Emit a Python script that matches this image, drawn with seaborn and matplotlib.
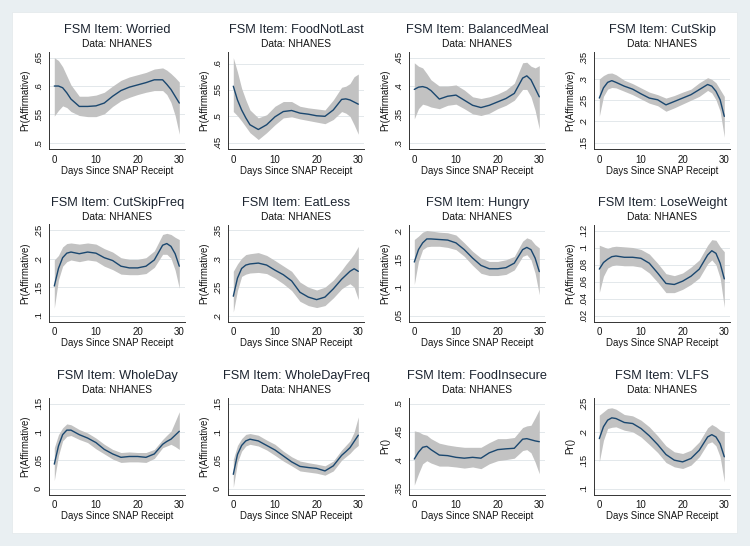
import numpy as np
import pandas as pd
import matplotlib
matplotlib.use('Agg')
import matplotlib.pyplot as plt
import matplotlib.patches as mpatches
import seaborn as sns

sns.set_theme(style='white')
plt.rcParams['font.family'] = ['Liberation Sans', 'DejaVu Sans']

# days since SNAP receipt (common grid)
days = [0, 1, 2, 3, 4, 6, 8, 10, 12, 14, 16, 18, 20, 22, 24, 26, 27, 28, 29, 30]

items = ['Worried', 'FoodNotLast', 'BalancedMeal', 'CutSkip',
         'CutSkipFreq', 'EatLess', 'Hungry', 'LoseWeight',
         'WholeDay', 'WholeDayFreq', 'FoodInsecure', 'VLFS']

ylabels = ['Pr(Affirmative)'] * 10 + ['Pr()'] * 2

yticks = [
    [.5, .55, .6, .65],
    [.45, .5, .55, .6],
    [.3, .35, .4, .45],
    [.15, .2, .25, .3, .35],
    [.1, .15, .2, .25],
    [.2, .25, .3, .35],
    [.05, .1, .15, .2],
    [.02, .04, .06, .08, .1, .12],
    [0, .05, .1, .15],
    [0, .05, .1, .15],
    [.35, .4, .45, .5],
    [.1, .15, .2, .25],
]

worried_mean = [.600, .600, .597, .588, .577, .564, .564, .565, .570, .582, .592, .598, .602, .606, .611, .611, .603, .594, .582, .570]
worried_lo = [.547, .557, .565, .562, .555, .548, .546, .546, .551, .564, .574, .580, .585, .589, .592, .592, .585, .571, .548, .515]
worried_hi = [.650, .645, .634, .618, .602, .582, .582, .584, .589, .600, .610, .616, .620, .624, .630, .632, .628, .622, .615, .607]

foodnotlast_mean = [.557, .531, .512, .497, .484, .475, .484, .499, .509, .511, .506, .504, .501, .500, .512, .532, .533, .531, .527, .523]
foodnotlast_lo = [.509, .501, .491, .480, .469, .456, .469, .484, .497, .499, .495, .492, .489, .486, .494, .509, .506, .500, .484, .466]
foodnotlast_hi = [.611, .584, .553, .531, .512, .497, .503, .519, .528, .528, .519, .516, .514, .512, .531, .555, .557, .562, .575, .580]

balanced_mean = [.394, .398, .399, .397, .392, .377, .382, .384, .375, .366, .362, .366, .372, .378, .387, .414, .418, .411, .396, .381]
balanced_lo = [.342, .360, .368, .366, .363, .360, .366, .368, .360, .351, .348, .352, .360, .366, .375, .394, .394, .381, .357, .324]
balanced_hi = [.441, .435, .432, .422, .411, .400, .400, .402, .393, .381, .378, .381, .386, .393, .405, .441, .442, .435, .432, .436]

cutskip_mean = [.255, .279, .292, .296, .292, .283, .276, .265, .255, .251, .239, .247, .255, .263, .275, .287, .283, .271, .251, .212]
cutskip_lo = [.212, .259, .276, .280, .279, .271, .263, .253, .243, .237, .224, .232, .241, .250, .259, .273, .267, .251, .224, .163]
cutskip_hi = [.300, .308, .313, .314, .310, .297, .289, .279, .269, .263, .255, .261, .269, .276, .291, .303, .299, .291, .275, .259]

cutskipfreq_mean = [.152, .183, .202, .210, .212, .209, .212, .210, .202, .197, .187, .184, .184, .187, .198, .224, .227, .222, .209, .187]
cutskipfreq_lo = [.113, .163, .187, .195, .198, .195, .198, .196, .187, .181, .173, .172, .172, .174, .185, .208, .208, .201, .180, .148]
cutskipfreq_hi = [.198, .206, .221, .227, .228, .226, .228, .226, .218, .212, .202, .199, .199, .202, .214, .243, .245, .243, .238, .234]

eatless_mean = [.234, .266, .283, .289, .291, .2925, .289, .280, .272, .261, .241, .2325, .228, .2325, .247, .264, .271, .278, .2825, .278]
eatless_lo = [.206, .244, .269, .273, .275, .276, .274, .266, .256, .244, .225, .2175, .214, .2175, .231, .247, .252, .256, .250, .228]
eatless_hi = [.278, .291, .301, .3075, .309, .311, .306, .297, .2875, .278, .259, .250, .245, .250, .2625, .280, .290, .299, .309, .322]

hungry_mean = [.145, .167, .179, .186, .186, .185, .184, .179, .167, .152, .139, .133, .133, .135, .143, .167, .171, .167, .152, .128]
hungry_lo = [.105, .146, .167, .172, .173, .173, .171, .167, .155, .139, .125, .121, .121, .123, .131, .155, .158, .149, .125, .087]
hungry_hi = [.185, .191, .198, .201, .200, .198, .197, .193, .179, .164, .152, .146, .146, .149, .155, .182, .188, .185, .176, .170]

loseweight_mean = [.0746, .0823, .0862, .0892, .090, .0885, .0885, .0873, .0815, .070, .0577, .0565, .0604, .0662, .0746, .0912, .0962, .0931, .0815, .0631]
loseweight_lo = [.0469, .0662, .0758, .0785, .0796, .0785, .0785, .0769, .070, .0592, .0469, .0469, .0508, .0565, .0642, .0808, .0854, .0796, .0642, .0296]
loseweight_hi = [.1027, .1008, .0988, .1008, .1015, .1008, .100, .0977, .0923, .0815, .0692, .0669, .070, .0769, .0854, .1027, .1092, .1085, .1008, .095]

wholeday_mean = [.043, .075, .095, .103, .103, .095, .089, .081, .069, .061, .055, .0565, .0565, .055, .061, .078, .083, .087, .094, .101]
wholeday_lo = [.014, .058, .084, .092, .0935, .0865, .081, .070, .061, .052, .046, .047, .047, .046, .053, .072, .075, .078, .074, .069]
wholeday_hi = [.072, .095, .107, .114, .1125, .104, .098, .089, .078, .069, .0635, .0645, .0635, .0635, .069, .0865, .094, .101, .118, .1355]

wholedayfreq_mean = [.025, .060, .076, .084, .087, .084, .076, .068, .0575, .047, .039, .037, .0355, .031, .040, .0585, .065, .072, .083, .094]
wholedayfreq_lo = [.002, .046, .066, .075, .078, .075, .068, .0585, .0485, .040, .031, .029, .027, .0235, .031, .050, .056, .062, .070, .076]
wholedayfreq_hi = [.0515, .076, .088, .0955, .097, .094, .0855, .078, .066, .056, .0485, .0455, .043, .040, .0485, .068, .076, .084, .0995, .1265]

foodinsecure_mean = [.402, .414, .4227, .4244, .4186, .409, .408, .405, .4035, .405, .4035, .413, .4186, .420, .421, .437, .438, .436, .434, .4326]
foodinsecure_lo = [.356, .376, .3936, .399, .395, .3895, .3895, .388, .386, .388, .385, .3936, .399, .401, .4035, .417, .4186, .413, .3965, .376]
foodinsecure_hi = [.4517, .450, .446, .444, .438, .430, .4267, .4244, .4227, .4227, .4227, .431, .438, .438, .440, .4576, .4605, .4616, .475, .4895]

vlfs_mean = [.188, .209, .2206, .2247, .2235, .2165, .2147, .2059, .193, .1776, .160, .150, .147, .153, .1676, .191, .195, .191, .179, .156]
vlfs_lo = [.147, .185, .2059, .208, .2088, .2029, .200, .191, .1776, .1635, .1459, .1382, .1353, .1412, .1559, .1794, .1824, .1753, .1559, .1118]
vlfs_hi = [.2294, .2353, .2412, .2424, .240, .2306, .2282, .2206, .2088, .193, .1753, .1647, .1618, .1676, .1824, .2071, .2129, .2088, .2029, .200]

means = [worried_mean, foodnotlast_mean, balanced_mean, cutskip_mean,
         cutskipfreq_mean, eatless_mean, hungry_mean, loseweight_mean,
         wholeday_mean, wholedayfreq_mean, foodinsecure_mean, vlfs_mean]
lows = [worried_lo, foodnotlast_lo, balanced_lo, cutskip_lo,
        cutskipfreq_lo, eatless_lo, hungry_lo, loseweight_lo,
        wholeday_lo, wholedayfreq_lo, foodinsecure_lo, vlfs_lo]
highs = [worried_hi, foodnotlast_hi, balanced_hi, cutskip_hi,
         cutskipfreq_hi, eatless_hi, hungry_hi, loseweight_hi,
         wholeday_hi, wholedayfreq_hi, foodinsecure_hi, vlfs_hi]


def stata_fmt(v):
    if v == 0:
        return '0'
    s = ('%g' % v)
    return s.replace('0.', '.', 1)


W, H = 750, 546
fig = plt.figure(figsize=(W / 100, H / 100), dpi=100)
fig.patch.set_facecolor('#e9eff2')
fig.patches.append(mpatches.Rectangle((12 / W, 1 - 533 / H), 725 / W, 521 / H,
                                      transform=fig.transFigure, facecolor='white',
                                      edgecolor='#e2e8eb', lw=0.5, zorder=-10))

col_left = [49.3, 228.3, 409.3, 594.3]
row_top = [51.7, 224.5, 397.5]
ax_w, ax_h = 136, 97
pad_px = 6

ink = '#141414'
navy = '#1a476f'
band = '#c2c2c2'

for i, item in enumerate(items):
    r, c = divmod(i, 4)
    ax = fig.add_axes([col_left[c] / W, 1 - (row_top[r] + ax_h) / H, ax_w / W, ax_h / H])
    ax.set_facecolor('white')

    ax.fill_between(days, lows[i], highs[i], color=band, lw=0, zorder=1)
    sns.lineplot(x=days, y=means[i], ax=ax, color=navy, lw=1.0, zorder=2)

    a = min(yticks[i][0], min(lows[i]))
    b = max(yticks[i][-1], max(highs[i]))
    scale = (ax_h - 2 * pad_px) / (b - a)
    ax.set_ylim(a - pad_px / scale, b + pad_px / scale)
    xscale = (ax_w - 11) / 30
    ax.set_xlim(-5 / xscale, 30 + 6 / xscale)

    ax.set_xticks([0, 10, 20, 30])
    ax.set_xticklabels(['0', '10', '20', '30'], fontsize=7, color=ink)
    ax.set_yticks(yticks[i])
    ax.set_yticklabels([stata_fmt(v) for v in yticks[i]], rotation=90,
                       va='center', fontsize=6.8, color=ink)
    ax.tick_params(direction='out', length=3, width=0.6, color='#333333', pad=1.2)
    ax.tick_params(axis='y', pad=1.8)

    ax.yaxis.grid(True, color='#e3e8eb', lw=0.7)
    ax.xaxis.grid(False)
    for s in ['top', 'right']:
        ax.spines[s].set_visible(False)
    for s in ['left', 'bottom']:
        ax.spines[s].set_color('#333333')
        ax.spines[s].set_linewidth(0.7)

    ax.set_xlabel('Days Since SNAP Receipt', fontsize=6.9, color=ink, labelpad=0.8)
    ax.set_ylabel(ylabels[i], fontsize=6.9, color=ink)
    ax.yaxis.set_label_coords(-19.5 / ax_w, 0.5)

    ax.text(0.5, 1 + 21.7 / ax_h, 'FSM Item: ' + item, transform=ax.transAxes,
            ha='center', va='center', fontsize=9.2, color='#1c2430')
    ax.text(0.5, 1 + 7.4 / ax_h, 'Data: NHANES', transform=ax.transAxes,
            ha='center', va='center', fontsize=7.4, color=ink)

fig.savefig('out.png', dpi=100, facecolor=fig.get_facecolor())
